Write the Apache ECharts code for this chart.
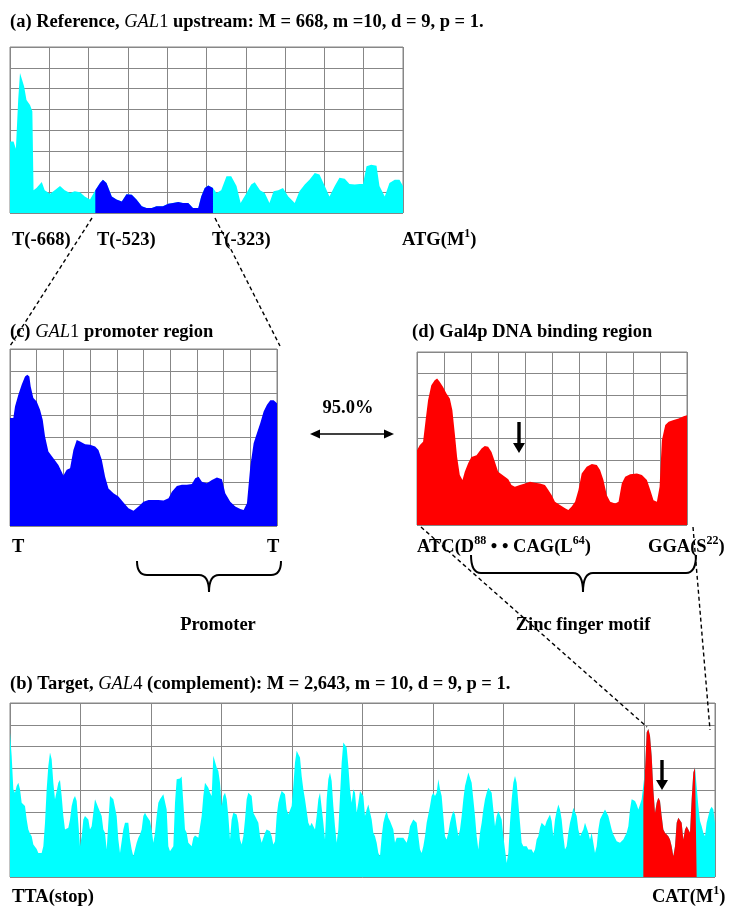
<!DOCTYPE html>
<html><head><meta charset="utf-8">
<script src="https://cdn.jsdelivr.net/npm/echarts@6/dist/echarts.min.js"></script>
<style>html,body{margin:0;padding:0;background:#fff}#c{width:755px;height:909px}</style>
</head><body><div id="c"></div>
<script>
// ---------- DATA ----------
// (a) Reference, GAL1 upstream: position (0 = T(-668) ... 668 = ATG) and score (grid rows)
const refPos = [0,6,10,14,17,20,24,28,34,38,40,45,54,59,68,76,85,93,102,110,119,127,136,145,153,158,164,173,181,190,198,207,215,224,232,241,249,260,269,277,286,294,303,311,320,325,331,337,345,351,359,368,376,385,392,402,410,416,425,433,441,448,456,464,473,484,492,501,509,518,526,535,543,552,560,569,577,586,594,600,606,614,623,628,637,645,654,662,668];
const refScore = [3.45,3.45,3.1,5.5,6.75,6.7,6.1,5.45,5.2,4.9,1.1,1.2,1.5,1.1,0.93,1.1,1.3,1.1,0.96,1.05,1.0,0.8,0.65,1.1,1.45,1.6,1.45,0.8,0.65,0.55,0.9,0.88,0.65,0.32,0.24,0.24,0.32,0.32,0.45,0.48,0.53,0.48,0.48,0.24,0.24,0.8,1.2,1.33,1.2,0.96,1.1,1.77,1.77,1.3,0.48,0.96,1.37,1.48,1.1,0.96,0.48,1.05,1.1,1.2,0.8,0.48,1.05,1.37,1.6,1.93,1.85,1.3,0.8,1.3,1.7,1.65,1.4,1.37,1.4,1.4,2.25,2.33,2.28,1.3,0.8,1.45,1.6,1.6,1.3];
const refLength = 668;
const promoterStart = 145;   // T(-523)
const promoterEnd = 345;     // T(-323)

// (c) GAL1 promoter region
const promoterPos = [0,2.5,3.75,6.25,8.75,11.25,13,14.5,15.5,17.5,20,22.5,24.5,26.25,28.75,32.5,36.25,40,42.5,45,47.5,50,52.5,56.25,60,63.75,66.25,68.75,71.25,73.75,77.5,81.25,85,88.75,92.5,96.25,100,103.75,107.5,111.25,115,118.75,121.25,125,128.75,132.5,136.25,138.75,141.25,143.75,147.5,151.25,155,158.75,161.25,165,168.75,172.5,175,177.5,180,182.5,185,187.5,190,192.5,195,197.5,200];
const promoterScore = [4.88,4.88,5.4,5.93,6.38,6.76,6.84,6.76,6.31,5.78,5.63,5.25,4.8,4.05,3.37,3.06,2.76,2.28,2.54,2.61,3.44,3.89,3.82,3.7,3.67,3.59,3.44,2.99,2.23,1.7,1.48,1.33,1.06,0.8,0.69,0.88,1.1,1.18,1.18,1.18,1.15,1.25,1.55,1.81,1.86,1.86,1.9,2.16,2.23,2.0,1.93,2.08,2.19,2.11,1.48,1.1,0.88,0.77,0.72,1.03,2.69,3.74,4.2,4.65,5.18,5.48,5.68,5.68,5.55];

// (d) Gal4p DNA binding region
const bindingPos = [0,2,4.5,6.4,8.2,10.6,13.1,14.9,16.8,19.3,21.8,24.3,26.2,28,29.7,31.7,33.7,35.4,37.9,40.3,44.1,47.8,50.2,52.7,55.2,57.7,60.1,62.6,65.1,67.6,70,72.5,76.2,80,83.7,87.4,91.1,94.8,97.3,99.8,102.2,105.9,109.7,112.1,114.6,117.1,119.6,122,125.7,129.5,133.2,135.6,138.1,140.6,143.1,146.8,149.3,151.7,154.2,157.9,162.9,166.6,170.3,172.8,175.2,177.7,179.7,181.4,183.9,186.4,190.1,193.8,197.5,200];
const bindingScore = [3.46,3.69,3.85,4.85,5.77,6.46,6.69,6.77,6.62,6.38,6.08,5.85,5.31,4.23,3.15,2.31,2.08,2.46,2.85,3.15,3.23,3.54,3.65,3.62,3.38,2.92,2.46,2.35,2.23,2.11,1.85,1.77,1.85,1.92,2.0,1.95,1.92,1.85,1.62,1.38,1.08,0.92,0.77,0.69,0.85,1.08,1.62,2.38,2.69,2.82,2.77,2.54,2.08,1.38,1.08,1.0,1.08,1.92,2.23,2.35,2.38,2.31,2.08,1.62,1.15,1.08,1.77,3.92,4.62,4.77,4.85,4.92,5.03,5.08];
const regionMax = 200;

// (b) Target, GAL4 (complement): equally spaced samples, score units (8 grid rows = 520)
const targetScore = [
432,362,262,252,272,282,262,222,227,212,172,142,130,122,97,92,84,72,77,72,
92,162,262,332,372,352,282,232,237,282,290,242,182,142,142,147,172,212,232,242,
227,162,92,122,172,182,184,172,142,152,192,232,227,207,202,182,142,132,82,162,
242,237,232,232,182,112,72,67,142,162,167,162,112,82,62,82,102,117,127,142,
182,192,182,177,167,142,102,132,182,222,232,237,247,242,202,92,77,82,92,222,
292,297,294,300,222,142,132,102,102,92,117,124,122,117,122,182,242,282,277,267,
252,242,362,367,327,317,282,212,242,252,232,182,112,172,192,197,187,162,112,97,
122,172,232,252,257,242,192,182,187,162,122,102,107,132,142,144,137,122,97,107,
182,222,242,257,262,247,202,187,182,212,272,342,377,367,357,302,262,232,197,162,
152,162,152,142,182,232,252,247,162,112,232,292,312,287,212,152,102,142,242,342,
402,407,387,332,262,222,262,252,192,222,257,262,242,182,202,217,212,172,132,122,
102,72,62,
122,162,182,197,177,167,162,142,102,117,122,117,112,117,112,102,122,152,162,172,
167,162,122,82,72,92,122,162,187,212,242,252,242,252,292,262,242,182,122,112,
132,162,182,197,187,152,122,142,182,232,272,292,312,307,282,232,182,122,82,132,
162,202,232,252,267,272,252,202,152,182,197,192,172,122,82,42,72,162,232,282,
302,282,222,162,102,92,97,92,82,77,82,72,82,112,122,147,162,162,152,167,
177,187,167,122,172,197,217,202,172,122,82,92,132,162,182,207,202,182,142,122,
117,142,162,157,132,112,132,102,72,92,142,172,182,187,202,197,182,162,142,127,
122,107,112,102,107,112,117,132,152,202,232,237,227,217,202,217,232,232,317,432,
442,422,362,262,192,222,237,227,182,142,132,137,122,112,92,62,92,162,177,182,
162,112,142,152,152,132,232,312,327,330,212,167,152,132,122,162,182,202,210,202,
162];
const zincStart = 380;  // start of Gal4p DNA binding region (sample index)
const zincEnd = 412;

const rowsMax = 8;       // score axis for a, c, d
const targetMax = 520;   // score axis for b

// ---------- CHART ----------
const FONT = '"Liberation Serif","Times New Roman",serif';
const FS = 18.5;
const GRID_COLOR = '#878787';
const CYAN = '#00ffff', BLUE = '#0000ff', RED = '#ff0000';

function xAx(gi, max) {
  return {type:'value', gridIndex:gi, min:0, max:max, interval:max/10,
    axisLine:{show:false}, axisTick:{show:false}, axisLabel:{show:false},
    splitLine:{show:true, lineStyle:{color:GRID_COLOR, width:1}}};
}
function yAx(gi, max) {
  return {type:'value', gridIndex:gi, min:0, max:max, interval:max/8,
    axisLine:{show:false}, axisTick:{show:false}, axisLabel:{show:false},
    splitLine:{show:true, lineStyle:{color:GRID_COLOR, width:1}}};
}
function area(idx, data, color, z) {
  return {type:'line', xAxisIndex:idx, yAxisIndex:idx, data:data, symbol:'none', showSymbol:false,
    lineStyle:{width:0}, areaStyle:{color:color, opacity:1}, silent:true, z:z, animation:false};
}

const refData = refPos.map((p, i) => [p, refScore[i]]);
const refPromoter = refData.filter(d => d[0] >= promoterStart && d[0] <= promoterEnd);
const promData = promoterPos.map((p, i) => [p, promoterScore[i]]);
const bindData = bindingPos.map((p, i) => [p, bindingScore[i]]);
const targetData = targetScore.map((v, i) => [i, v]);
const targetZinc = targetData.filter(d => d[0] >= zincStart && d[0] <= zincEnd);

const gridBase = {show:true, borderColor:GRID_COLOR, borderWidth:1, backgroundColor:'#fff'};
const RICH = {
  b:{fontFamily:FONT, fontWeight:'bold', fontSize:FS, lineHeight:24, fill:'#000'},
  i:{fontFamily:FONT, fontWeight:'normal', fontStyle:'italic', fontSize:FS, lineHeight:24, fill:'#000'},
  n:{fontFamily:FONT, fontWeight:'normal', fontSize:FS, lineHeight:24, fill:'#000'},
  s:{fontFamily:FONT, fontWeight:'bold', fontSize:12, lineHeight:10, verticalAlign:'top', fill:'#000'}
};
function txt(x, y, text, align) {
  return {type:'text', x:x, y:y, z:100, silent:true,
    style:{text:text, fill:'#000', fontFamily:FONT, fontWeight:'bold', fontSize:FS,
      align:align || 'left', verticalAlign:'middle', rich:RICH}};
}
function dash(x1, y1, x2, y2) {
  return {type:'line', z:100, silent:true, shape:{x1:x1, y1:y1, x2:x2, y2:y2},
    style:{stroke:'#000', lineWidth:1.4, lineDash:[4,3]}};
}
function seg(x1, y1, x2, y2) {
  return {type:'line', z:100, silent:true, shape:{x1:x1, y1:y1, x2:x2, y2:y2},
    style:{stroke:'#000', lineWidth:2}};
}
function curve(x1, y1, cx, cy, x2, y2) {
  return {type:'bezierCurve', z:100, silent:true, shape:{x1:x1, y1:y1, x2:x2, y2:y2, cpx1:cx, cpy1:cy},
    style:{stroke:'#000', lineWidth:2, fill:null}};
}
function brace(x1, x2, yTop, yMid, tipX, yTip) {
  const r = 10;
  return [
    curve(x1, yTop, x1, yMid, x1 + r, yMid),
    seg(x1 + r, yMid, tipX - r, yMid),
    curve(tipX - r, yMid, tipX, yMid, tipX, yTip),
    curve(tipX, yTip, tipX, yMid, tipX + r, yMid),
    seg(tipX + r, yMid, x2 - r, yMid),
    curve(x2 - r, yMid, x2, yMid, x2, yTop)
  ];
}
function downArrow(x, yTop, yTip) {
  return [
    {type:'rect', z:100, silent:true, shape:{x:x - 1.7, y:yTop, width:3.4, height:yTip - yTop - 9}, style:{fill:'#000'}},
    {type:'polygon', z:100, silent:true, shape:{points:[[x - 6, yTip - 10], [x + 6, yTip - 10], [x, yTip]]}, style:{fill:'#000'}}
  ];
}

const graphics = [
  txt(10, 22, '{b|(a) Reference, }{i|GAL}{n|1}{b| upstream: M = 668, m =10, d = 9, p = 1.}'),
  txt(12, 240, '{b|T(-668)}'),
  txt(97, 240, '{b|T(-523)}'),
  txt(212, 240, '{b|T(-323)}'),
  txt(402, 240, '{b|ATG(M}{s|1}{b|)}'),
  txt(10, 332, '{b|(c) }{i|GAL}{n|1}{b| promoter region}'),
  txt(412, 332, '{b|(d) Gal4p DNA binding region}'),
  txt(348, 408, '{b|95.0%}', 'center'),
  txt(12, 547, '{b|T}'),
  txt(267, 547, '{b|T}'),
  txt(417, 547, '{b|ATC(D}{s|88}{b| • • CAG(L}{s|64}{b|)}'),
  txt(648, 547, '{b|GGA(S}{s|22}{b|)}'),
  txt(218, 625, '{b|Promoter}', 'center'),
  txt(583, 625, '{b|Zinc finger motif}', 'center'),
  txt(10, 684, '{b|(b) Target, }{i|GAL}{n|4}{b| (complement): M = 2,643, m = 10, d = 9, p = 1.}'),
  txt(12, 897, '{b|TTA(stop)}'),
  txt(652, 897, '{b|CAT(M}{s|1}{b|)}'),
  dash(92, 218, 10, 346),
  dash(215, 218, 280, 346),
  dash(421, 527, 647, 727),
  dash(693, 527, 710, 730),
  {type:'line', z:100, silent:true, shape:{x1:318, y1:434, x2:386, y2:434}, style:{stroke:'#000', lineWidth:1.6}},
  {type:'polygon', z:100, silent:true, shape:{points:[[310,434],[320,429.5],[320,438.5]]}, style:{fill:'#000'}},
  {type:'polygon', z:100, silent:true, shape:{points:[[394,434],[384,429.5],[384,438.5]]}, style:{fill:'#000'}}
].concat(brace(137, 281, 561, 575, 209, 592), brace(471, 696, 555, 573, 583, 592),
         downArrow(519, 422, 453), downArrow(662, 760, 790));

const chart = echarts.init(document.getElementById('c'), null, {renderer:'canvas', width:755, height:909});
chart.setOption({
  animation:false,
  backgroundColor:'#fff',
  grid:[
    Object.assign({left:10, top:47, width:393, height:166}, gridBase),
    Object.assign({left:10, top:349, width:267, height:177}, gridBase),
    Object.assign({left:417, top:352, width:270, height:173}, gridBase),
    Object.assign({left:10, top:703, width:705, height:174}, gridBase)
  ],
  xAxis:[xAx(0, refLength), xAx(1, regionMax), xAx(2, regionMax), xAx(3, targetScore.length - 1)],
  yAxis:[yAx(0, rowsMax), yAx(1, rowsMax), yAx(2, rowsMax), yAx(3, targetMax)],
  series:[
    area(0, refData, CYAN, 2),
    area(0, refPromoter, BLUE, 3),
    area(1, promData, BLUE, 2),
    area(2, bindData, RED, 2),
    area(3, targetData, CYAN, 2),
    area(3, targetZinc, RED, 3)
  ],
  graphic:{elements:graphics}
});
</script></body></html>
